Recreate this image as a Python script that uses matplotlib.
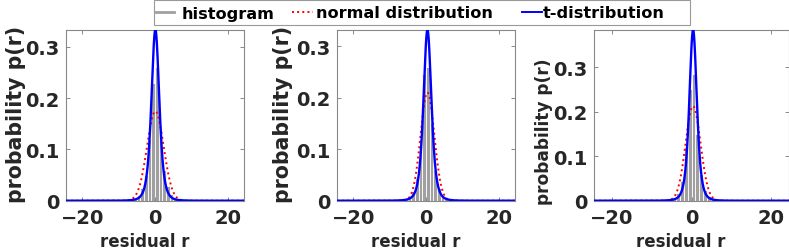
import numpy as np
import matplotlib
matplotlib.use("Agg")
import matplotlib.pyplot as plt
from matplotlib.lines import Line2D
from matplotlib.patches import Rectangle
from math import gamma, pi, sqrt

plt.rcParams['font.family'] = ['DejaVu Sans']
plt.rcParams['font.weight'] = 'bold'

# histogram bin centres (width 1) and densities, one list per panel
bin_centers = [-7.5, -6.5, -5.5, -4.5, -3.5, -2.5, -1.5, -0.5,
               0.5, 1.5, 2.5, 3.5, 4.5, 5.5, 6.5, 7.5]
hist_1 = [0.002, 0.003, 0.006, 0.012, 0.025, 0.05, 0.12, 0.23,
          0.26, 0.14, 0.06, 0.028, 0.013, 0.006, 0.003, 0.002]
hist_2 = [0.001, 0.002, 0.004, 0.008, 0.018, 0.045, 0.12, 0.245,
          0.26, 0.15, 0.06, 0.024, 0.01, 0.005, 0.002, 0.001]
hist_3 = [0.001, 0.002, 0.004, 0.008, 0.018, 0.045, 0.12, 0.25,
          0.285, 0.15, 0.06, 0.024, 0.01, 0.005, 0.002, 0.001]

# fitted parameters
norm_mu = [0.1, 0.4, 0.4]
norm_sigma = [2.29, 1.90, 1.88]
t_loc = [0.1, 0.4, 0.4]
t_scale = [1.126, 1.13, 0.977]
t_nu = [4, 4, 4]

xlim = (-24.5, 24.5)
xticks = [-20, 0, 20]
yticks = [0, 0.1, 0.2, 0.3]
legend_labels = ['histogram', 'normal distribution', 't-distribution']

# layout in output pixels (y measured from the top)
W, H = 789, 253
ax_left = [66, 337, 594]
ax_width = [178, 178, 195]
ax_top, ax_bottom = 30.7, 201.7
ylab_span = [(25, 203), (25, 203), (58, 205)]   # top/bottom of rotated label
ylab_right = [26, 293, 553]
xlab_center = [145, 416, 681]
xlab_top = 233
xlab_width = 90


def normal_pdf(x, mu, s):
    return np.exp(-0.5 * ((x - mu) / s) ** 2) / (s * sqrt(2 * pi))


def t_pdf(x, loc, s, nu):
    c = gamma((nu + 1) / 2) / (gamma(nu / 2) * sqrt(nu * pi) * s)
    return c * (1 + ((x - loc) / s) ** 2 / nu) ** (-(nu + 1) / 2)


def px(x, y):
    # pixel position (from top-left) -> figure fraction
    return x / W, (H - y) / H


fig = plt.figure(figsize=(W / 100, H / 100), dpi=100)
xs = np.linspace(xlim[0], xlim[1], 2000)
hists = [hist_1, hist_2, hist_3]
axes = []

for i in range(3):
    ax = fig.add_axes([ax_left[i] / W, (H - ax_bottom) / H,
                       ax_width[i] / W, (ax_bottom - ax_top) / H])
    ax.bar(bin_centers, hists[i], width=1.0, color='#a0a0a0',
           edgecolor='white', linewidth=0.6, zorder=1)
    ax.plot(xs, normal_pdf(xs, norm_mu[i], norm_sigma[i]), color='#ff0000',
            linestyle=':', linewidth=1.4, zorder=2)
    ty = t_pdf(xs, t_loc[i], t_scale[i], t_nu[i])
    ax.plot(xs, ty, color='#0000ff', linewidth=1.7, zorder=3)
    ax.set_xlim(xlim)
    ax.set_ylim(0, ty.max())
    ax.set_xticks(xticks)
    ax.set_yticks(yticks)
    ax.set_yticklabels(['%g' % v for v in yticks])
    ax.tick_params(direction='in', length=3, width=0.6, color='#777777',
                   top=True, right=True, labelsize=14, labelcolor='#262626', pad=5)
    for sp in ax.spines.values():
        sp.set_color('#888888')
        sp.set_linewidth(0.8)
    ax.set_xlabel('residual r', fontsize=14, fontweight='bold', color='#262626')
    ax.set_ylabel('probability p(r)', fontsize=15, fontweight='bold', color='#262626')
    axes.append(ax)

# size the axis labels to the measured extents and pin their positions
fig.canvas.draw()
r = fig.canvas.get_renderer()
for i, ax in enumerate(axes):
    yl = ax.yaxis.label
    top, bot = ylab_span[i]
    yl.set_fontsize(yl.get_fontsize() * (bot - top) / yl.get_window_extent(r).height)
    ax.yaxis.set_label_coords(*px(ylab_right[i], (top + bot) / 2), transform=fig.transFigure)
    xl = ax.xaxis.label
    xl.set_fontsize(xl.get_fontsize() * xlab_width / xl.get_window_extent(r).width)
    ax.xaxis.set_label_coords(*px(xlab_center[i], xlab_top), transform=fig.transFigure)

# legend box drawn at its measured place
fig.add_artist(Rectangle(px(154, 25.7), (690 - 154) / W, 25.2 / H,
                         transform=fig.transFigure, facecolor='white',
                         edgecolor='#999999', linewidth=0.8))
handle_x = [(155, 174), (292, 313), (522, 542)]
text_x = [182, 316, 543]
styles = [dict(color='#a0a0a0', linewidth=2),
          dict(color='#ff0000', linestyle=':', linewidth=1.4),
          dict(color='#0000ff', linewidth=1.4)]
for (x0, x1), tx, st, lab in zip(handle_x, text_x, styles, legend_labels):
    fig.add_artist(Line2D([x0 / W, x1 / W], [(H - 13) / H] * 2,
                          transform=fig.transFigure, **st))
    fig.text(*px(tx, 18.5), lab, fontsize=11.6, fontweight='bold',
             color='black', va='baseline', ha='left')

fig.savefig('out.png', dpi=100, facecolor='white')
